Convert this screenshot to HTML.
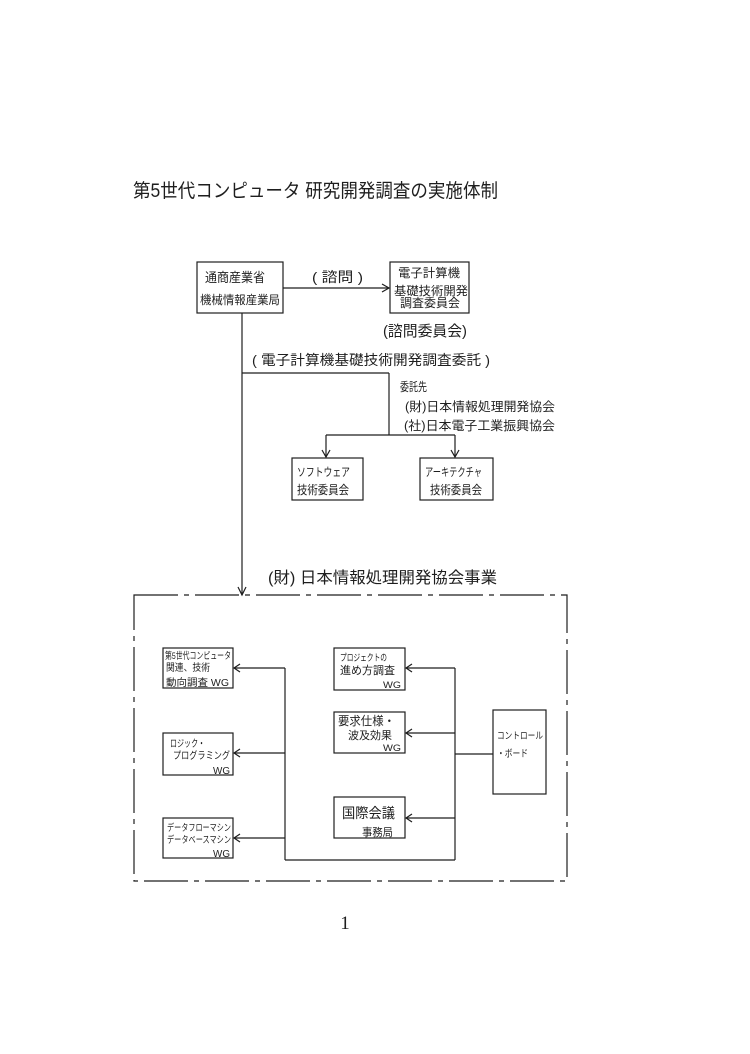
<!DOCTYPE html>
<html>
<head>
<meta charset="utf-8">
<style>
html,body{margin:0;padding:0;background:#fff;}
svg{display:block;}
text{font-family:"Liberation Sans","Noto Sans CJK JP",sans-serif;fill:#1e1e1e;}
</style>
</head>
<body>
<svg width="750" height="1054" viewBox="0 0 750 1054" xmlns="http://www.w3.org/2000/svg">
<rect width="750" height="1054" fill="#fff"/>

<!-- Title -->
<text x="133" y="197" font-size="19" textLength="365" lengthAdjust="spacingAndGlyphs">第5世代コンピュータ 研究開発調査の実施体制</text>

<g stroke="#1e1e1e" stroke-width="1.2" fill="none">
  <!-- Top boxes -->
  <rect x="197" y="262" width="86" height="51"/>
  <rect x="390" y="262" width="79" height="51"/>
  <line x1="283" y1="288" x2="389" y2="288"/>
  <polyline points="382,284 389,288 382,292"/>
  <!-- main vertical -->
  <line x1="242" y1="313" x2="242" y2="595"/>
  <polyline points="238,587 242,595 246,587"/>
  <!-- branch -->
  <line x1="242" y1="373" x2="389" y2="373"/>
  <line x1="389" y1="373" x2="389" y2="435"/>
  <line x1="326" y1="435" x2="455" y2="435"/>
  <line x1="326" y1="435" x2="326" y2="457"/>
  <line x1="455" y1="435" x2="455" y2="457"/>
  <polyline points="322,450 326,457 330,450"/>
  <polyline points="451,450 455,457 459,450"/>
  <rect x="292" y="458" width="71" height="42"/>
  <rect x="420" y="458" width="73" height="42"/>

  <!-- dashed box -->
  <path d="M134,595 L567,595 L567,881 L134,881 Z" stroke-dasharray="44 6 5 6"/>

  <!-- inner boxes left -->
  <rect x="163" y="648" width="70" height="40"/>
  <rect x="163" y="733" width="70" height="42"/>
  <rect x="163" y="818" width="70" height="40"/>
  <!-- inner boxes right -->
  <rect x="334" y="648" width="71" height="42"/>
  <rect x="334" y="712" width="71" height="41"/>
  <rect x="334" y="797" width="71" height="41"/>
  <rect x="493" y="710" width="53" height="84"/>

  <!-- connectors -->
  <line x1="285" y1="668" x2="285" y2="860"/>
  <line x1="285" y1="860" x2="455" y2="860"/>
  <line x1="455" y1="668" x2="455" y2="860"/>
  <line x1="455" y1="754" x2="493" y2="754"/>

  <line x1="285" y1="668" x2="234" y2="668"/>
  <polyline points="240,664 234,668 240,672"/>
  <line x1="285" y1="753" x2="234" y2="753"/>
  <polyline points="240,749 234,753 240,757"/>
  <line x1="285" y1="838" x2="234" y2="838"/>
  <polyline points="240,834 234,838 240,842"/>

  <line x1="455" y1="668" x2="406" y2="668"/>
  <polyline points="412,664 406,668 412,672"/>
  <line x1="455" y1="733" x2="406" y2="733"/>
  <polyline points="412,729 406,733 412,737"/>
  <line x1="455" y1="818" x2="406" y2="818"/>
  <polyline points="412,814 406,818 412,822"/>
</g>

<!-- Top texts -->
<text x="205" y="282" font-size="13" textLength="60" lengthAdjust="spacingAndGlyphs">通商産業省</text>
<text x="200" y="304" font-size="12" textLength="80" lengthAdjust="spacingAndGlyphs">機械情報産業局</text>
<text x="312" y="282" font-size="14" textLength="51" lengthAdjust="spacingAndGlyphs">( 諮問 )</text>
<text x="398" y="277" font-size="12" textLength="62" lengthAdjust="spacingAndGlyphs">電子計算機</text>
<text x="394" y="295" font-size="12" textLength="74" lengthAdjust="spacingAndGlyphs">基礎技術開発</text>
<text x="400" y="307" font-size="12" textLength="60" lengthAdjust="spacingAndGlyphs">調査委員会</text>
<text x="383" y="336" font-size="15" textLength="84" lengthAdjust="spacingAndGlyphs">(諮問委員会)</text>

<text x="252" y="365" font-size="14" textLength="238" lengthAdjust="spacingAndGlyphs">( 電子計算機基礎技術開発調査委託 )</text>
<text x="400" y="391" font-size="12" textLength="27" lengthAdjust="spacingAndGlyphs">委託先</text>
<text x="405" y="411" font-size="12.5" textLength="150" lengthAdjust="spacingAndGlyphs">(財)日本情報処理開発協会</text>
<text x="404" y="430" font-size="12.5" textLength="151" lengthAdjust="spacingAndGlyphs">(社)日本電子工業振興協会</text>

<text x="297" y="476" font-size="11.5" textLength="53" lengthAdjust="spacingAndGlyphs">ソフトウェア</text>
<text x="297" y="494" font-size="12" textLength="52" lengthAdjust="spacingAndGlyphs">技術委員会</text>
<text x="425" y="476" font-size="11.5" textLength="57" lengthAdjust="spacingAndGlyphs">アーキテクチャ</text>
<text x="430" y="494" font-size="12" textLength="52" lengthAdjust="spacingAndGlyphs">技術委員会</text>

<text x="268" y="583" font-size="16" textLength="229" lengthAdjust="spacingAndGlyphs">(財) 日本情報処理開発協会事業</text>

<!-- Left boxes -->
<text x="165" y="659" font-size="9.5" textLength="66" lengthAdjust="spacingAndGlyphs">第5世代コンピュータ</text>
<text x="166" y="671" font-size="10" textLength="44" lengthAdjust="spacingAndGlyphs">関連、技術</text>
<text x="166" y="686" font-size="10" textLength="63" lengthAdjust="spacingAndGlyphs">動向調査 WG</text>

<text x="170" y="747" font-size="10" textLength="35" lengthAdjust="spacingAndGlyphs">ロジック・</text>
<text x="173" y="759" font-size="10" textLength="57" lengthAdjust="spacingAndGlyphs">プログラミング</text>
<text x="213" y="774" font-size="10" textLength="17" lengthAdjust="spacingAndGlyphs">WG</text>

<text x="167" y="831" font-size="9.5" textLength="64" lengthAdjust="spacingAndGlyphs">データフローマシン</text>
<text x="167" y="843" font-size="9.5" textLength="64" lengthAdjust="spacingAndGlyphs">データベースマシン</text>
<text x="213" y="857" font-size="10" textLength="17" lengthAdjust="spacingAndGlyphs">WG</text>

<!-- Right boxes -->
<text x="340" y="661" font-size="9.5" textLength="47" lengthAdjust="spacingAndGlyphs">プロジェクトの</text>
<text x="340" y="674" font-size="11" textLength="55" lengthAdjust="spacingAndGlyphs">進め方調査</text>
<text x="383" y="688" font-size="9.5" textLength="18" lengthAdjust="spacingAndGlyphs">WG</text>

<text x="338" y="725" font-size="12" textLength="57" lengthAdjust="spacingAndGlyphs">要求仕様・</text>
<text x="348" y="739" font-size="11" textLength="44" lengthAdjust="spacingAndGlyphs">波及効果</text>
<text x="383" y="751" font-size="9.5" textLength="18" lengthAdjust="spacingAndGlyphs">WG</text>

<text x="342" y="818" font-size="14" textLength="53" lengthAdjust="spacingAndGlyphs">国際会議</text>
<text x="362" y="836" font-size="11" textLength="31" lengthAdjust="spacingAndGlyphs">事務局</text>

<text x="497" y="739" font-size="9.5" textLength="46" lengthAdjust="spacingAndGlyphs">コントロール</text>
<text x="497" y="757" font-size="10" textLength="31" lengthAdjust="spacingAndGlyphs">・ボード</text>

<!-- page number -->
<text x="345" y="929" font-size="19" text-anchor="middle" style="font-family:'Liberation Serif',serif">1</text>
</svg>
</body>
</html>
